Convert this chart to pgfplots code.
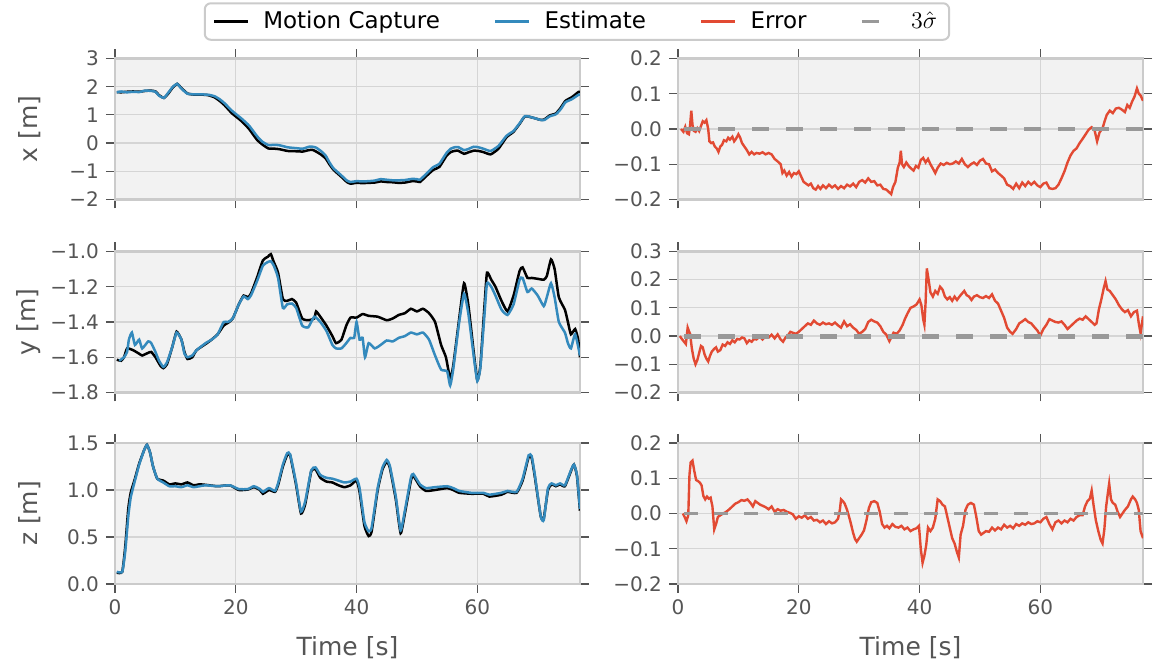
\documentclass[border=0pt]{standalone}
\usepackage{fontspec}
\setmainfont{DejaVu Sans}
\usepackage{pgfplots}
\usepackage{pgfplotstable}
\pgfplotsset{compat=1.18}

\definecolor{bgc}{HTML}{F2F2F2}
\definecolor{framec}{HTML}{CBCBCB}
\definecolor{gridc}{HTML}{D5D5D5}
\definecolor{tickc}{HTML}{555555}
\definecolor{labc}{HTML}{555555}
\definecolor{mocap}{HTML}{000000}
\definecolor{est}{HTML}{348ABD}
\definecolor{err}{HTML}{E24A33}
\definecolor{sig}{HTML}{999999}

% motion capture / estimate, x
\pgfplotstableread{
t v
0.3 1.81
1 1.80
2 1.82
3 1.83
4 1.82
5 1.85
6 1.86
6.7 1.83
7.3 1.70
8.1 1.60
8.8 1.75
9.6 1.98
10.3 2.10
11 1.95
12 1.76
13 1.72
14 1.72
15 1.71
15.6 1.69
16.5 1.62
17.3 1.50
18.1 1.35
19.4 1.05
21 0.77
22.2 0.50
23.5 0.12
24.4 -0.05
25.4 -0.19
26.5 -0.20
27.3 -0.22
28.6 -0.28
30 -0.29
31.1 -0.30
32.1 -0.25
32.7 -0.24
33.3 -0.30
34.2 -0.42
34.9 -0.55
35.5 -0.75
36.2 -0.95
37.5 -1.20
38.4 -1.38
39 -1.44
40 -1.41
41 -1.42
42 -1.41
43 -1.40
44 -1.36
45 -1.38
46 -1.39
47 -1.41
48 -1.40
49.2 -1.35
50 -1.36
50.5 -1.38
51.4 -1.20
52.7 -0.95
53.7 -0.85
54.9 -0.45
55.6 -0.32
56.2 -0.28
56.8 -0.27
57.8 -0.38
58.5 -0.33
59.4 -0.27
60.2 -0.28
61 -0.32
62.2 -0.40
63.5 -0.20
64.8 0.20
65.5 0.32
66 0.40
67 0.68
67.9 0.95
69.2 0.90
70.5 0.82
71.1 0.84
72 0.98
73 1.05
73.8 1.25
74.6 1.50
75.6 1.62
76.8 1.82
77 1.82
}\mocapx
\pgfplotstableread{
t v
0.3 1.80
1 1.83
2 1.80
3 1.82
4 1.81
5 1.86
6 1.85
6.7 1.82
7.3 1.68
8.1 1.60
8.8 1.78
9.6 2.00
10.3 2.10
11 1.93
12 1.75
13 1.73
14 1.73
15 1.72
15.6 1.71
16.5 1.66
17.3 1.56
18.1 1.42
19.4 1.14
21 0.86
22.2 0.62
23.5 0.25
24.4 0.05
25.4 -0.07
26.5 -0.06
27.3 -0.08
28.6 -0.15
30 -0.18
31.1 -0.20
32.1 -0.13
32.7 -0.13
33.3 -0.16
34.2 -0.30
34.9 -0.45
35.5 -0.68
36.2 -0.90
37.5 -1.15
38.4 -1.33
39 -1.38
40 -1.35
41 -1.36
42 -1.35
43 -1.33
44 -1.28
45 -1.30
46 -1.32
47 -1.32
48 -1.31
49.2 -1.27
50 -1.28
50.5 -1.30
51.4 -1.12
52.7 -0.85
53.7 -0.74
54.9 -0.35
55.6 -0.20
56.2 -0.15
56.8 -0.14
57.8 -0.25
58.5 -0.21
59.4 -0.13
60.2 -0.15
61 -0.20
62.2 -0.28
63.5 -0.10
64.8 0.25
65.5 0.36
66 0.43
67 0.70
67.9 0.96
69.2 0.90
70.5 0.82
71.1 0.82
72 0.95
73 1.02
73.8 1.20
74.6 1.45
75.6 1.55
76.8 1.72
77 1.72
}\estx

% y
\pgfplotstableread{
t v
0.3 -1.614
1 -1.62
1.5 -1.60
2 -1.55
3 -1.56
4 -1.58
4.5 -1.59
5.5 -1.575
6 -1.57
6.7 -1.60
7.5 -1.647
8 -1.662
8.6 -1.64
9.5 -1.54
10.2 -1.455
11 -1.50
11.5 -1.57
12 -1.61
12.8 -1.60
13.5 -1.56
15 -1.525
16 -1.50
17 -1.47
18 -1.42
18.7 -1.405
19.5 -1.38
20.5 -1.30
21.3 -1.25
22 -1.26
22.5 -1.24
23.5 -1.15
24.5 -1.05
25.3 -1.03
25.8 -1.015
26.3 -1.06
27 -1.12
27.8 -1.27
28.5 -1.28
29.3 -1.27
30 -1.29
31 -1.38
32 -1.39
33 -1.38
33.3 -1.34
34 -1.37
35 -1.42
36 -1.48
36.6 -1.52
37.5 -1.50
38.3 -1.42
39 -1.375
40 -1.375
41 -1.355
42 -1.365
43.5 -1.37
45 -1.39
46 -1.38
47 -1.36
48 -1.35
49 -1.325
50 -1.34
51 -1.325
52 -1.35
53 -1.40
54 -1.53
54.8 -1.60
55.5 -1.72
56 -1.65
57 -1.38
57.8 -1.18
58.5 -1.30
59.5 -1.60
60 -1.73
60.5 -1.65
61.2 -1.30
61.6 -1.12
62.3 -1.16
63 -1.20
64 -1.28
65 -1.34
66 -1.25
67 -1.11
67.5 -1.09
68.3 -1.15
69 -1.15
70 -1.155
71 -1.16
71.5 -1.14
72.2 -1.045
72.8 -1.10
73.5 -1.26
74.5 -1.33
75 -1.40
75.5 -1.47
76.2 -1.44
76.7 -1.50
77 -1.60
}\mocapy
\pgfplotstableread{
t v
0.7 -1.62
1.5 -1.60
2 -1.57
2.3 -1.50
2.8 -1.46
3.3 -1.53
4 -1.50
4.5 -1.55
5.5 -1.51
6 -1.52
6.7 -1.57
7.3 -1.62
8 -1.655
8.6 -1.63
9.5 -1.54
10.2 -1.46
11 -1.50
11.5 -1.58
12 -1.60
12.8 -1.59
13.5 -1.56
15 -1.52
16 -1.50
17 -1.47
18 -1.40
18.7 -1.40
19.5 -1.38
20.5 -1.30
21.3 -1.255
22 -1.27
22.5 -1.25
23.5 -1.17
24.5 -1.08
25.3 -1.06
25.8 -1.055
26.3 -1.08
27 -1.15
27.8 -1.32
28.5 -1.30
29.3 -1.295
30 -1.32
31 -1.42
32 -1.43
33 -1.37
34 -1.40
35 -1.45
36 -1.53
36.6 -1.55
37.5 -1.55
38.3 -1.52
39 -1.49
39.6 -1.49
40 -1.40
40.5 -1.50
41 -1.49
41.4 -1.60
42 -1.52
43 -1.55
44 -1.53
45 -1.505
46 -1.51
47 -1.49
48 -1.48
49 -1.46
50 -1.47
51 -1.46
52 -1.50
53 -1.59
54 -1.67
55 -1.68
55.5 -1.76
56 -1.67
57 -1.40
57.8 -1.24
58.5 -1.35
59.5 -1.62
60 -1.735
60.5 -1.66
61.2 -1.35
61.6 -1.18
62.3 -1.20
63 -1.25
64 -1.33
65 -1.36
66 -1.30
67 -1.16
67.5 -1.15
68.3 -1.23
69 -1.21
70 -1.25
71 -1.31
71.5 -1.26
72.2 -1.18
72.8 -1.26
73.5 -1.40
74.5 -1.46
75 -1.52
75.5 -1.55
76.2 -1.47
77 -1.59
}\esty

% z
\pgfplotstableread{
t v
0.3 0.12
1.2 0.13
1.7 0.40
2.2 0.80
2.6 0.97
3.3 1.12
4 1.28
4.8 1.42
5.3 1.48
5.8 1.40
6.3 1.25
7 1.12
8 1.10
9 1.06
10 1.07
11 1.06
12 1.08
13 1.05
14 1.06
15 1.055
17 1.04
19 1.05
20.5 1.00
22 1.005
23 1.03
24 1.00
24.5 0.96
25.5 1.00
26.5 0.98
27 1.05
27.8 1.25
28.5 1.37
29 1.37
30 1.05
30.8 0.75
31.5 0.85
32.5 1.20
33.2 1.22
34 1.13
35 1.09
36 1.08
37 1.05
38 1.03
39 1.05
40 1.10
40.5 0.98
41.3 0.62
42 0.51
42.5 0.56
43.5 1.00
44.3 1.22
45 1.30
45.5 1.24
46.5 0.90
47.3 0.54
48 0.75
49 1.10
49.4 1.15
50.5 1.04
51.5 0.99
53 1.00
55 1.02
56 1.00
57 0.97
59 0.96
61 0.96
62 0.93
64 0.95
65 0.98
66.5 0.97
67.5 1.10
68.5 1.35
69 1.34
69.5 1.15
70.5 0.72
71 0.70
71.7 1.00
72.3 1.06
73 1.04
73.7 1.06
74.5 1.04
75.5 1.20
76 1.27
76.5 1.15
77 0.78
}\mocapz
\pgfplotstableread{
t v
0.3 0.13
1.2 0.13
1.7 0.35
2.2 0.72
2.6 0.92
3.3 1.10
4 1.27
4.8 1.42
5.3 1.48
5.8 1.40
6.3 1.25
7 1.12
8 1.08
9 1.04
10 1.04
11 1.03
12 1.05
13 1.03
14 1.04
15 1.05
17 1.04
19 1.05
20.5 1.01
22 1.01
23 1.04
24 1.01
24.5 0.98
25.5 1.02
26.5 0.99
27 1.07
27.8 1.27
28.5 1.39
29 1.38
30 1.07
30.8 0.77
31.5 0.88
32.5 1.21
33.2 1.24
34 1.16
35 1.13
36 1.12
37 1.10
38 1.08
39 1.09
40 1.12
40.5 1.02
41.3 0.66
42 0.56
42.5 0.60
43.5 1.02
44.3 1.24
45 1.32
45.5 1.26
46.5 0.93
47.3 0.57
48 0.78
49 1.13
49.4 1.17
50.5 1.06
51.5 1.02
53 1.03
55 1.04
56 1.02
57 0.99
59 0.97
61 0.97
62 0.95
64 0.97
65 0.99
66.5 0.98
67.5 1.12
68.5 1.37
69 1.36
69.5 1.17
70.5 0.72
71 0.68
71.7 1.02
72.3 1.07
73 1.05
73.7 1.07
74.5 1.05
75.5 1.21
76 1.27
76.5 1.16
77 0.80
}\estz

% errors
\pgfplotstableread{
t v
0.5 0.000
0.9 -0.008
1.2 0.006
1.5 -0.012
1.8 -0.015
2.0 0.010
2.2 0.052
2.4 0.012
2.6 -0.005
2.9 -0.008
3.2 0.002
3.5 -0.006
3.8 0.008
4.1 0.022
4.4 0.018
4.7 0.025
5.0 0.000
5.2 -0.035
5.5 -0.040
5.8 -0.038
6.1 -0.050
6.4 -0.055
6.7 -0.065
7.0 -0.050
7.3 -0.045
7.6 -0.032
8.0 -0.035
8.3 -0.025
8.6 -0.030
9.0 -0.022
9.3 -0.035
9.6 -0.028
10.0 -0.015
10.3 -0.025
10.6 -0.040
11.0 -0.050
11.4 -0.060
11.8 -0.072
12.2 -0.065
12.6 -0.072
13.0 -0.068
13.5 -0.070
14.0 -0.066
14.5 -0.072
15.0 -0.068
15.5 -0.072
16.0 -0.085
16.5 -0.092
17.0 -0.100
17.3 -0.125
17.6 -0.118
18.0 -0.132
18.4 -0.122
18.8 -0.135
19.2 -0.125
19.6 -0.128
20.0 -0.120
20.4 -0.135
20.8 -0.150
21.2 -0.155
21.6 -0.160
22.0 -0.155
22.4 -0.168
22.8 -0.172
23.2 -0.162
23.6 -0.170
24.0 -0.160
24.5 -0.168
25.0 -0.158
25.5 -0.166
26.0 -0.160
26.5 -0.170
27.0 -0.162
27.5 -0.168
28.0 -0.158
28.5 -0.163
29.0 -0.155
29.5 -0.165
30.0 -0.150
30.5 -0.145
31.0 -0.152
31.5 -0.140
32.0 -0.150
32.5 -0.148
33.0 -0.160
33.5 -0.158
34.0 -0.170
34.5 -0.172
35.0 -0.180
35.3 -0.185
35.6 -0.165
36.0 -0.150
36.4 -0.110
36.7 -0.095
36.9 -0.062
37.1 -0.100
37.4 -0.108
37.8 -0.095
38.2 -0.105
38.6 -0.112
39.0 -0.118
39.4 -0.105
39.8 -0.110
40.2 -0.088
40.6 -0.082
41.0 -0.095
41.4 -0.085
41.8 -0.100
42.2 -0.112
42.6 -0.125
43.0 -0.110
43.5 -0.098
44.0 -0.102
44.5 -0.096
45.0 -0.100
45.5 -0.098
46.0 -0.092
46.5 -0.098
47.0 -0.085
47.5 -0.100
48.0 -0.108
48.5 -0.100
49.0 -0.095
49.5 -0.102
50.0 -0.090
50.5 -0.085
51.0 -0.098
51.5 -0.100
52.0 -0.120
52.5 -0.115
53.0 -0.125
53.5 -0.132
54.0 -0.140
54.5 -0.158
55.0 -0.162
55.5 -0.170
56.0 -0.155
56.5 -0.168
57.0 -0.152
57.5 -0.162
58.0 -0.150
58.5 -0.158
59.0 -0.150
59.5 -0.160
60.0 -0.165
60.5 -0.155
61.0 -0.152
61.5 -0.168
62.0 -0.170
62.5 -0.168
63.0 -0.158
63.5 -0.140
64.0 -0.120
64.5 -0.095
65.0 -0.075
65.5 -0.062
66.0 -0.055
66.5 -0.040
67.0 -0.028
67.5 -0.015
68.0 -0.002
68.5 0.005
69.0 -0.005
69.4 -0.035
69.8 -0.010
70.3 0.002
70.7 0.025
71.0 0.040
71.5 0.052
72.0 0.045
72.5 0.058
73.0 0.060
73.5 0.055
74.0 0.048
74.4 0.068
74.8 0.060
75.2 0.078
75.6 0.092
76.0 0.115
76.3 0.100
76.6 0.095
77.0 0.080
}\errx
\pgfplotstableread{
t v
0.3 0.000
0.7 -0.012
1.0 -0.020
1.3 -0.028
1.6 0.030
1.8 0.018
2.0 0.008
2.3 -0.045
2.6 -0.080
2.9 -0.100
3.2 -0.085
3.5 -0.060
3.8 -0.035
4.1 -0.040
4.4 -0.065
4.7 -0.080
5.0 -0.090
5.3 -0.070
5.6 -0.055
6.0 -0.045
6.3 -0.040
6.6 -0.055
7.0 -0.050
7.4 -0.030
7.8 -0.035
8.2 -0.022
8.6 -0.028
9.0 -0.015
9.4 -0.022
9.8 -0.010
10.2 -0.012
10.6 -0.005
11.0 -0.008
11.4 -0.025
11.8 -0.015
12.2 -0.020
12.6 -0.010
13.0 -0.012
13.5 -0.002
14.0 -0.012
14.5 0.000
15.0 -0.005
15.5 0.005
16.0 -0.008
16.5 0.006
17.0 -0.012
17.4 -0.020
17.8 -0.005
18.2 0.002
18.6 0.015
19.0 0.012
19.5 0.008
20.0 0.015
20.5 0.025
21.0 0.035
21.5 0.045
22.0 0.040
22.5 0.055
23.0 0.045
23.5 0.040
24.0 0.048
24.5 0.042
25.0 0.045
25.5 0.040
26.0 0.048
26.5 0.038
27.0 0.030
27.5 0.052
28.0 0.035
28.5 0.042
29.0 0.030
29.5 0.022
30.0 0.008
30.5 0.015
31.0 0.025
31.5 0.050
32.0 0.058
32.5 0.052
33.0 0.048
33.5 0.035
34.0 0.015
34.5 0.005
35.0 -0.018
35.3 -0.005
35.7 0.012
36.2 0.008
36.7 0.020
37.2 0.040
37.6 0.062
38.0 0.080
38.5 0.100
39.0 0.105
39.5 0.112
40.0 0.130
40.3 0.110
40.6 0.060
40.8 0.040
41.0 0.120
41.2 0.240
41.5 0.200
41.8 0.155
42.2 0.140
42.6 0.160
43.0 0.150
43.4 0.175
43.8 0.165
44.2 0.140
44.6 0.130
45.0 0.138
45.4 0.125
45.8 0.140
46.2 0.128
46.6 0.140
47.0 0.150
47.4 0.160
47.8 0.145
48.2 0.140
48.6 0.128
49.0 0.140
49.5 0.145
50.0 0.138
50.5 0.135
51.0 0.142
51.5 0.135
52.0 0.148
52.5 0.125
53.0 0.115
53.5 0.090
54.0 0.065
54.5 0.030
55.0 0.015
55.4 0.008
56.0 0.025
56.5 0.045
57.0 0.052
57.5 0.060
58.0 0.050
58.5 0.045
59.0 0.032
59.5 0.020
60.0 0.002
60.5 0.025
61.0 0.040
61.5 0.060
62.0 0.055
62.5 0.050
63.0 0.048
63.5 0.052
64.0 0.040
64.5 0.025
65.0 0.035
65.5 0.045
66.0 0.055
66.5 0.062
67.0 0.058
67.5 0.070
68.0 0.060
68.5 0.050
69.0 0.040
69.3 0.045
69.7 0.095
70.1 0.130
70.5 0.170
70.8 0.195
71.1 0.165
71.5 0.160
72.0 0.145
72.5 0.130
73.0 0.110
73.5 0.095
74.0 0.085
74.5 0.092
75.0 0.070
75.5 0.085
76.0 0.090
76.3 0.045
76.6 0.010
77.0 0.070
}\erry
\pgfplotstableread{
t v
0.8 0.000
1.1 -0.010
1.4 -0.022
1.7 -0.005
1.9 0.110
2.1 0.145
2.4 0.150
2.7 0.120
3.0 0.095
3.3 0.092
3.6 0.088
3.9 0.080
4.2 0.050
4.5 0.040
4.8 0.048
5.1 0.042
5.4 0.045
5.7 0.020
6.0 -0.045
6.3 -0.030
6.6 -0.010
7.0 -0.005
7.5 0.000
8.0 0.005
8.5 0.012
9.0 0.020
9.5 0.028
10.0 0.032
10.5 0.038
11.0 0.036
11.5 0.040
12.0 0.030
12.4 0.020
12.8 0.035
13.2 0.030
13.6 0.025
14.0 0.022
14.5 0.018
15.0 0.012
15.5 0.020
16.0 0.005
16.5 0.012
17.0 0.008
17.5 0.010
18.0 0.005
18.5 0.002
19.0 -0.002
19.5 -0.015
20.0 -0.008
20.5 -0.012
21.0 -0.005
21.5 -0.015
22.0 -0.010
22.5 -0.020
23.0 -0.018
23.5 -0.025
24.0 -0.020
24.5 -0.030
25.0 -0.022
25.5 -0.028
26.0 -0.025
26.5 -0.015
26.8 0.010
27.0 0.040
27.3 0.035
27.6 0.028
28.0 0.010
28.5 -0.020
29.0 -0.055
29.3 -0.072
29.6 -0.080
30.0 -0.070
30.4 -0.060
30.8 -0.048
31.2 -0.020
31.6 0.015
32.0 0.032
32.5 0.035
33.0 0.030
33.4 0.005
33.8 -0.030
34.2 -0.040
34.6 -0.035
35.0 -0.042
35.5 -0.030
36.0 -0.038
36.5 -0.040
37.0 -0.035
37.5 -0.045
38.0 -0.040
38.5 -0.050
39.0 -0.045
39.5 -0.042
39.9 -0.035
40.2 -0.100
40.5 -0.140
40.8 -0.120
41.1 -0.090
41.4 -0.040
41.8 -0.050
42.2 -0.040
42.6 -0.015
43.0 0.040
43.4 0.035
43.8 0.025
44.2 0.020
44.6 -0.010
45.0 -0.040
45.4 -0.070
45.8 -0.085
46.2 -0.110
46.5 -0.125
46.8 -0.060
47.2 -0.035
47.6 0.010
48.0 0.025
48.5 0.030
49.0 0.025
49.4 -0.010
49.8 -0.050
50.2 -0.060
50.6 -0.055
51.0 -0.050
51.5 -0.052
52.0 -0.040
52.5 -0.048
53.0 -0.040
53.5 -0.045
54.0 -0.032
54.5 -0.040
55.0 -0.035
55.5 -0.042
56.0 -0.030
56.5 -0.035
57.0 -0.028
57.5 -0.032
58.0 -0.025
58.5 -0.030
59.0 -0.028
59.5 -0.022
60.0 -0.025
60.5 -0.015
61.0 -0.010
61.5 -0.030
62.0 -0.045
62.5 -0.025
63.0 -0.020
63.5 -0.028
64.0 -0.020
64.5 -0.025
65.0 -0.015
65.5 -0.020
66.0 -0.010
66.5 -0.005
67.0 -0.005
67.4 0.020
67.8 0.035
68.2 0.042
68.5 0.065
68.8 0.025
69.2 -0.020
69.6 -0.050
70.0 -0.075
70.3 -0.085
70.6 -0.045
70.9 0.020
71.2 0.060
71.4 0.085
71.7 0.040
72.0 0.030
72.4 0.025
72.8 0.005
73.2 -0.010
73.6 0.000
74.0 0.010
74.5 0.020
75.0 0.040
75.3 0.048
75.7 0.040
76.0 0.030
76.3 0.010
76.6 -0.050
77.0 -0.070
}\errz

\pgfplotsset{
  panel/.style={
    scale only axis, width=232.5pt, height=70.5pt,
    anchor=south west,
    xmin=0, xmax=77,
    xtick={0,20,40,60},
    xticklabels={},
    axis background/.style={fill=bgc},
    axis line style={draw=framec, line width=1.3pt},
    grid=major,
    major grid style={draw=gridc, line width=0.6pt},
    tick pos=both, tick align=outside,
    major tick length=4.5pt,
    tick style={draw=tickc, line width=0.6pt},
    ticklabel style={font=\fontsize{10}{12}\selectfont, text=labc},
    label style={font=\fontsize{12.5}{15}\selectfont, text=labc},
    xticklabel pos=lower, yticklabel pos=left,
    ylabel style={at={(axis description cs:-0.145,0.5)}, anchor=south},
    xlabel style={at={(axis description cs:0.5,-0.45)}, anchor=center},
  },
  bottom/.style={xticklabels={0,20,40,60}, xlabel={Time [s]}},
  mc/.style={draw=mocap, line width=1.25pt, smooth, tension=0.3},
  es/.style={draw=est, line width=1.25pt, smooth, tension=0.3},
  er/.style={draw=err, line width=1.2pt},
  sg/.style={draw=sig, line width=1.3pt, dash pattern=on 8.5pt off 8.5pt},
}

\begin{document}
\begin{tikzpicture}
\useasboundingbox (0,0) rectangle (580.5pt,333.5pt);

% x
\begin{axis}[panel, at={(57.5pt,233.75pt)}, ymin=-2, ymax=3,
  ytick={-2,-1,0,1,2,3}, yticklabels={−2,−1,0,1,2,3}, ylabel={x [m]},
  legend style={at={(0.9935,1.262)}, anchor=center, legend columns=4,
    draw=framec, line width=1pt, rounded corners=3pt, fill=white,
    inner xsep=4pt, inner ysep=2pt,
    font=\fontsize{11.5}{14}\selectfont, text=black,
    /tikz/every odd column/.append style={column sep=5pt},
    /tikz/every even column/.append style={column sep=25pt}},
  legend image code/.code={\draw[#1] (0pt,0pt) -- (17pt,0pt);}]
  \addplot[mc] table[x=t, y=v] {\mocapx};
  \addlegendentry{Motion Capture}
  \addplot[es] table[x=t, y=v] {\estx};
  \addlegendentry{Estimate}
  \addlegendimage{er}
  \addlegendentry{Error}
  \addlegendimage{sg}
  \addlegendentry{$3\hat{\sigma}$}
\end{axis}
\begin{axis}[panel, at={(339pt,233.75pt)}, ymin=-0.2, ymax=0.2,
  ytick={-0.2,-0.1,0,0.1,0.2}, yticklabels={−0.2,−0.1,0.0,0.1,0.2}]
  \addplot[er] table[x=t, y=v] {\errx};
  \addplot[sg] coordinates {(1,0.002) (77,0.002)};
  \addplot[sg] coordinates {(1,-0.002) (77,-0.002)};
\end{axis}

% y
\begin{axis}[panel, at={(57.5pt,137.25pt)}, ymin=-1.8, ymax=-1.0,
  ytick={-1.8,-1.6,-1.4,-1.2,-1.0}, yticklabels={−1.8,−1.6,−1.4,−1.2,−1.0}, ylabel={y [m]}]
  \addplot[mc] table[x=t, y=v] {\mocapy};
  \addplot[es] table[x=t, y=v] {\esty};
\end{axis}
\begin{axis}[panel, at={(339pt,137.25pt)}, ymin=-0.2, ymax=0.3,
  ytick={-0.2,-0.1,0,0.1,0.2,0.3}, yticklabels={−0.2,−0.1,0.0,0.1,0.2,0.3}]
  \addplot[er] table[x=t, y=v] {\erry};
  \addplot[sg] coordinates {(1,0.004) (77,0.004)};
  \addplot[sg] coordinates {(1,-0.004) (77,-0.004)};
\end{axis}

% z
\begin{axis}[panel, bottom, at={(57.5pt,41.5pt)}, ymin=0, ymax=1.5,
  ytick={0,0.5,1,1.5}, yticklabels={0.0,0.5,1.0,1.5}, ylabel={z [m]}]
  \addplot[mc] table[x=t, y=v] {\mocapz};
  \addplot[es] table[x=t, y=v] {\estz};
\end{axis}
\begin{axis}[panel, bottom, at={(339pt,41.5pt)}, ymin=-0.2, ymax=0.2,
  ytick={-0.2,-0.1,0,0.1,0.2}, yticklabels={−0.2,−0.1,0.0,0.1,0.2}]
  \addplot[er] table[x=t, y=v] {\errz};
  \addplot[sg, line width=1.1pt, dash pattern=on 7pt off 8pt] coordinates {(1,0) (77,0)};
\end{axis}
\end{tikzpicture}
\end{document}
